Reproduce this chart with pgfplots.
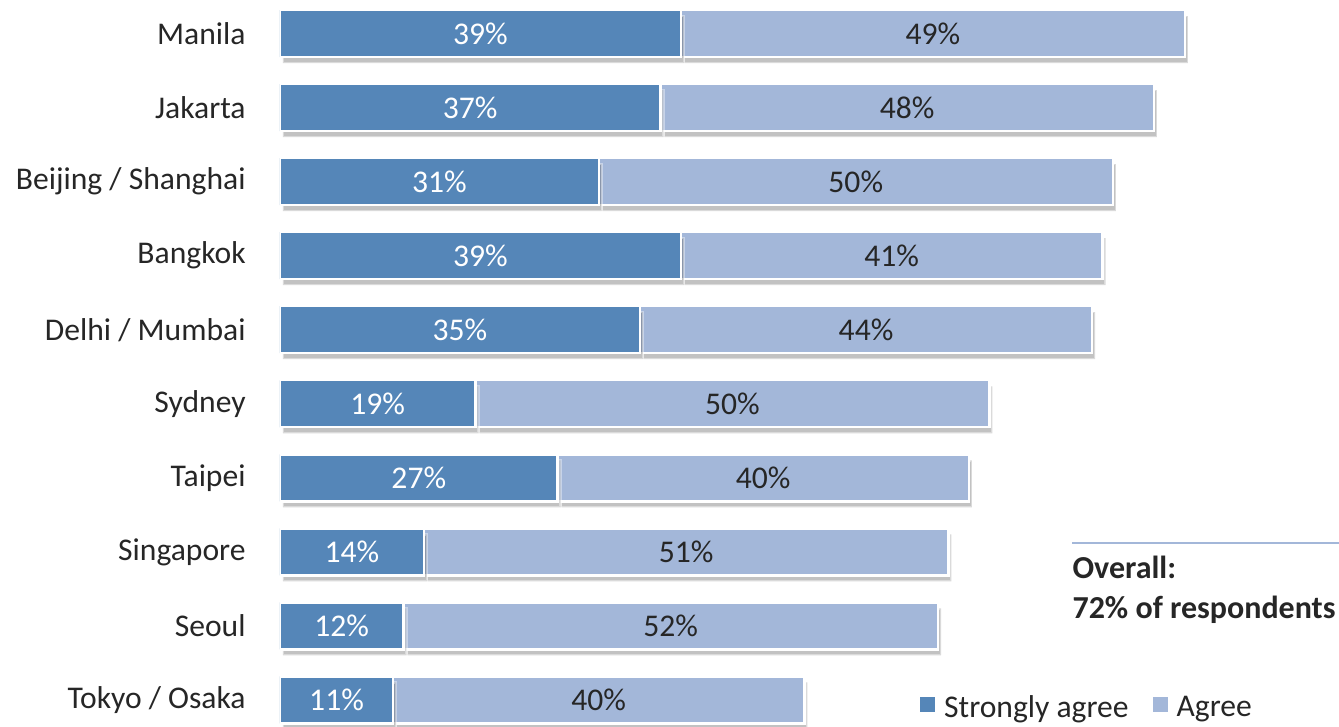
\documentclass[border=0pt]{standalone}
\usepackage{pgfplots}
\pgfplotsset{compat=1.18}
\usepackage{pgfplotstable}
\usepackage{fontspec}
\setmainfont{Carlito}
\usetikzlibrary{shadows}
\definecolor{sa}{HTML}{5586B8}
\definecolor{ag}{HTML}{A3B7D9}
\definecolor{txt}{HTML}{262626}

\pgfplotstableread{
y sa ag
9 39 49
8 37 48
7 31 50
6 39 41
5 35 44
4 19 50
3 27 40
2 14 51
1 12 52
0 11 40
}\data

\newcommand\legsq[1]{%
  \pgfsetfillcolor{#1}%
  \pgfpathrectangle{\pgfpoint{0pt}{-2pt}}{\pgfpoint{7.5pt}{7.5pt}}%
  \pgfusepath{fill}%
  \pgfpathmoveto{\pgfpoint{10pt}{0pt}}%
  \pgfusepath{discard}}

\begin{document}
\begin{tikzpicture}[font=\fontsize{15.8}{19}\selectfont]
\pgfplotsset{base/.style={scale only axis, width=529.5pt, height=363.5pt,
  xmin=0, xmax=103, ymin=-0.365, ymax=9.453, at={(0,0)}, anchor=south west}}
\begin{axis}[base, xbar stacked, bar width=23.5pt,
  axis line style={draw=none}, major tick length=0pt,
  xtick=\empty, ytick={0,...,9},
  yticklabels={Tokyo / Osaka, Seoul, Singapore, Taipei, Sydney, Delhi / Mumbai, Bangkok, Beijing / Shanghai, Jakarta, Manila},
  y tick label style={anchor=east, inner sep=0pt, xshift=-17pt, text=txt},
  legend style={at={(rel axis cs:0.763,0.026)}, anchor=center, draw=none, fill=none,
    legend columns=2, font=\fontsize{15.8}{19}\selectfont, text=txt,
    /tikz/every even column/.append style={column sep=10pt}},
]
\addplot[fill=sa, draw=white, line width=1.2pt,
  drop shadow={shadow xshift=1.5pt, shadow yshift=-3pt, opacity=0.4, fill=black!60},
  legend image code/.code={\legsq{sa}}]
  table[x=sa, y=y]{\data};
\addlegendentry{Strongly agree}
\addplot[fill=ag, draw=white, line width=1.2pt,
  drop shadow={shadow xshift=1.5pt, shadow yshift=-3pt, opacity=0.4, fill=black!60},
  legend image code/.code={\legsq{ag}}]
  table[x=ag, y=y]{\data};
\addlegendentry{Agree}
\draw[ag, line width=1pt] (rel axis cs:0.748,0.253) -- (rel axis cs:1,0.253);
\node[anchor=north west, align=left, inner sep=0pt, text=txt,
  font=\fontsize{16}{20}\selectfont\bfseries] at (rel axis cs:0.748,0.236)
  {Overall:\\72\% of respondents};
\end{axis}
\begin{axis}[base, hide axis]
\addplot[draw=none, mark=none, nodes near coords={\pgfplotspointmeta\%},
  point meta=explicit symbolic,
  nodes near coords style={anchor=center, text=white, font=\fontsize{15.8}{19}\selectfont}]
  table[x expr=\thisrow{sa}/2, y=y, meta=sa]{\data};
\addplot[draw=none, mark=none, nodes near coords={\pgfplotspointmeta\%},
  point meta=explicit symbolic,
  nodes near coords style={anchor=center, text=txt, font=\fontsize{15.8}{19}\selectfont}]
  table[x expr=\thisrow{sa}+\thisrow{ag}/2, y=y, meta=ag]{\data};
\end{axis}
\pgfresetboundingbox
\path (-140pt,0pt) rectangle (529.5pt,363.5pt);
\end{tikzpicture}
\end{document}
